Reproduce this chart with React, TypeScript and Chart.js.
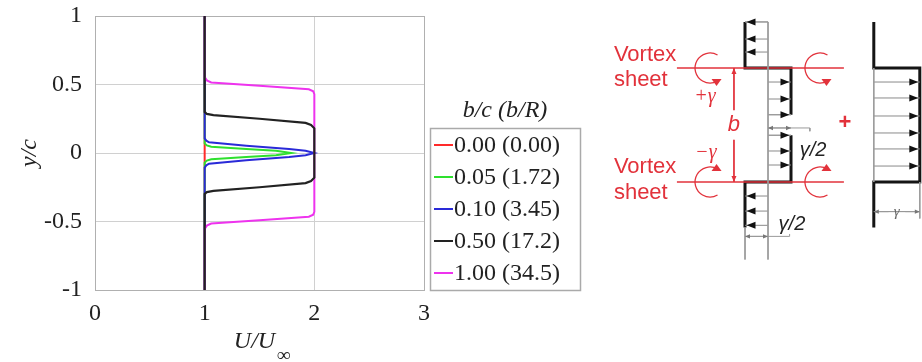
import React, { useEffect, useRef } from "react";
import { Chart, registerables } from "chart.js";
Chart.register(...registerables);

// ---------------- main chart data ----------------
const xTickValues = [0, 1, 2, 3];
const yTickValues = [-1, -0.5, 0, 0.5, 1];
const xTitle = "U/U";
const xTitleSub = "\u221E";
const yTitle = "y/c";
const legendTitle = "b/c (b/R)";
const seriesLabels = ["0.00 (0.00)", "0.05 (1.72)", "0.10 (3.45)", "0.50 (17.2)", "1.00 (34.5)"];
const seriesColors = ["#ff2a2a", "#2ee02e", "#2a2ad8", "#222222", "#ee33ee"];
const drawOrder = [4, 3, 2, 0, 1];

const redU = [1, 1];
const redY = [1, -1];
const greenU = [1, 1, 1.02, 1.06, 1.38, 1.65, 1.79, 1.65, 1.38, 1.06, 1.02, 1, 1];
const greenY = [1, 0.07, 0.055, 0.046, 0.03, 0.017, 0, -0.017, -0.03, -0.046, -0.055, -0.07, -1];
const blueU = [1, 1, 1.015, 1.04, 1.38, 1.77, 1.92, 2.0, 1.92, 1.77, 1.38, 1.04, 1.015, 1, 1];
const blueY = [1, 0.107, 0.09, 0.078, 0.053, 0.03, 0.017, 0, -0.017, -0.03, -0.053, -0.078, -0.09, -0.107, -1];
const blackU = [1, 1, 1.02, 1.08, 1.5, 1.92, 1.97, 2, 2, 1.97, 1.92, 1.5, 1.08, 1.02, 1, 1];
const blackY = [1, 0.3, 0.285, 0.277, 0.25, 0.22, 0.205, 0.18, -0.18, -0.205, -0.22, -0.25, -0.277, -0.285, -0.3, -1];
const magentaU = [1, 1, 1.02, 1.06, 1.5, 1.95, 1.99, 2, 2, 1.99, 1.95, 1.5, 1.06, 1.02, 1, 1];
const magentaY = [1, 0.555, 0.53, 0.515, 0.49, 0.465, 0.45, 0.43, -0.43, -0.45, -0.465, -0.49, -0.515, -0.53, -0.555, -1];

const seriesU = [redU, greenU, blueU, blackU, magentaU];
const seriesY = [redY, greenY, blueY, blackY, magentaY];

// ---------------- diagram data (x in units of gamma, y in units of b) ----------------
const sheetLevels = [0.5, -0.5];
const sheetSpan = [-1.98, 1.65];
const leftUpperX = [-0.5, -0.5, 0.5, 0.5];
const leftUpperY = [0.904, 0.5, 0.5, 0.09];
const leftLowerX = [0.5, 0.5, -0.5, -0.5];
const leftLowerY = [-0.09, -0.5, -0.5, -0.9];
const rightProfX = [2.3, 2.3, 3.3, 3.3, 2.3, 2.3];
const rightProfY = [0.904, 0.5, 0.5, -0.5, -0.5, -0.9];
const guideSegments = [
  [0, 0.904, 0, -1.18],
  [-0.5, 0.904, 0, 0.904],
  [0, 0.09, 0.5, 0.09],
  [0, -0.09, 0.5, -0.09],
  [-0.5, -0.9, -0.5, -1.18],
  [2.3, 0.5, 2.3, -0.5],
  [3.3, -0.5, 3.3, -0.82],
  [0, -0.026, 0.91, -0.026],
  [0.91, -0.026, 0.91, -0.055],
  [-0.5, -0.977, 0.47, -0.977],
  [0.47, -0.977, 0.47, -0.956],
  [2.3, -0.76, 2.62, -0.76],
  [2.98, -0.76, 3.3, -0.76],
];
const arrowsTopLeftY = [0.904, 0.754, 0.64];
const arrowsUpperY = [0.377, 0.228, 0.09];
const arrowsLowerY = [-0.09, -0.228, -0.351];
const arrowsBottomLeftY = [-0.623, -0.755, -0.88];
const arrowsRightY = [0.377, 0.237, 0.079, -0.07, -0.21, -0.36];
const arrowGroups = [
  { from: 0, to: -0.5, ys: arrowsTopLeftY },
  { from: 0, to: 0.5, ys: arrowsUpperY },
  { from: 0, to: 0.5, ys: arrowsLowerY },
  { from: 0, to: -0.5, ys: arrowsBottomLeftY },
  { from: 2.3, to: 3.3, ys: arrowsRightY },
];
const dimensions = [
  { x0: 0, x1: 0.5, y: -0.026 },
  { x0: -0.5, x1: 0, y: -0.977 },
  { x0: 2.3, x1: 3.3, y: -0.76 },
];
const bLineX = -0.74;
const bLineY = [0.5, 0.13, -0.13, -0.5];
const curlX = [-1.26, 1.13, -1.26, 1.13];
const curlY = [0.5, 0.5, -0.5, -0.5];
const curlUp = [false, false, true, true];
const diagramTexts = [
  { t: "Vortex", x: -3.35, y: 0.614, f: '22px "Liberation Sans"', c: "red", a: "left" },
  { t: "sheet", x: -3.35, y: 0.395, f: '22px "Liberation Sans"', c: "red", a: "left" },
  { t: "Vortex", x: -3.35, y: -0.366, f: '22px "Liberation Sans"', c: "red", a: "left" },
  { t: "sheet", x: -3.35, y: -0.6, f: '22px "Liberation Sans"', c: "red", a: "left" },
  { t: "+\u03B3", x: -1.37, y: 0.246, f: 'italic 20px "Liberation Serif"', c: "red", a: "center" },
  { t: "\u2212\u03B3", x: -1.35, y: -0.246, f: 'italic 20px "Liberation Serif"', c: "red", a: "center" },
  { t: "b", x: -0.74, y: 0, f: 'italic 22px "Liberation Sans"', c: "red", a: "center" },
  { t: "+", x: 1.67, y: 0.018, f: 'bold 22px "Liberation Sans"', c: "red", a: "center" },
  { t: "\u03B3/2", x: 0.98, y: -0.22, f: 'italic 20px "Liberation Sans"', c: "#222", a: "center" },
  { t: "\u03B3/2", x: 0.52, y: -0.87, f: 'italic 20px "Liberation Sans"', c: "#222", a: "center" },
  { t: "\u03B3", x: 2.8, y: -0.76, f: 'italic 15px "Liberation Serif"', c: "#666", a: "center" },
];

const RED = "#e2323b";
const SERIF = '"Liberation Serif", "Times New Roman", serif';

const mainPlugin = {
  id: "mainDecor",
  beforeDatasetsDraw(chart: any) {
    const { ctx, chartArea } = chart;
    ctx.save();
    ctx.strokeStyle = "#b0b0b0";
    ctx.lineWidth = 1;
    ctx.strokeRect(chartArea.left + 0.5, chartArea.top + 0.5, chartArea.right - chartArea.left, chartArea.bottom - chartArea.top);
    ctx.restore();
  },
  afterDraw(chart: any) {
    const { ctx, chartArea } = chart;
    ctx.save();
    ctx.fillStyle = "#222";
    ctx.font = "italic 24px " + SERIF;
    ctx.textAlign = "center";
    ctx.textBaseline = "middle";
    ctx.translate(30, (chartArea.top + chartArea.bottom) / 2);
    ctx.rotate(-Math.PI / 2);
    ctx.fillText(yTitle, 0, 0);
    ctx.setTransform(1, 0, 0, 1, 0, 0);
    ctx.textAlign = "left";
    ctx.textBaseline = "alphabetic";
    ctx.font = "italic 24px " + SERIF;
    const w = ctx.measureText(xTitle).width;
    const sw = 18;
    const cx = (chartArea.left + chartArea.right) / 2;
    const x0 = cx - (w + sw) / 2 + 4;
    ctx.fillText(xTitle, x0, 348);
    ctx.font = "italic 19px " + SERIF;
    ctx.fillText(xTitleSub, x0 + w + 2, 361);
    const lx = chartArea.right + 6;
    const ly = 128;
    ctx.font = "italic 24px " + SERIF;
    ctx.textAlign = "center";
    ctx.textBaseline = "middle";
    ctx.fillText(legendTitle, lx + 75, 111);
    ctx.strokeStyle = "#aaaaaa";
    ctx.lineWidth = 1.5;
    ctx.strokeRect(lx + 0.5, ly + 0.5, 150, 162);
    ctx.font = "24px " + SERIF;
    ctx.textAlign = "left";
    seriesLabels.forEach((lab, i) => {
      const y = ly + 17 + i * 32;
      ctx.strokeStyle = seriesColors[i];
      ctx.lineWidth = 2;
      ctx.beginPath();
      ctx.moveTo(lx + 4, y);
      ctx.lineTo(lx + 23, y);
      ctx.stroke();
      ctx.fillStyle = "#222";
      ctx.fillText(lab, lx + 24, y + 1);
    });
    ctx.restore();
  },
};

function head(ctx: any, tx: number, ty: number, dx: number, dy: number, len: number, half: number, color: string) {
  const nx = -dy, ny = dx;
  ctx.fillStyle = color;
  ctx.beginPath();
  ctx.moveTo(tx, ty);
  ctx.lineTo(tx - dx * len + nx * half, ty - dy * len + ny * half);
  ctx.lineTo(tx - dx * len - nx * half, ty - dy * len - ny * half);
  ctx.closePath();
  ctx.fill();
}

const diagramPlugin = {
  id: "diagramDecor",
  afterDatasetsDraw(chart: any) {
    const { ctx } = chart;
    const sx = chart.scales.x, sy = chart.scales.y;
    const px = (v: number) => sx.getPixelForValue(v);
    const py = (v: number) => sy.getPixelForValue(v);
    ctx.save();
    arrowGroups.forEach((g) => {
      const dir = g.to > g.from ? 1 : -1;
      g.ys.forEach((y) => head(ctx, px(g.to) - dir * 1.5, py(y), dir, 0, 9, 3.5, "#111"));
    });
    dimensions.forEach((d) => {
      head(ctx, px(d.x0), py(d.y), -1, 0, 5, 2.2, "#777");
      head(ctx, px(d.x1), py(d.y), 1, 0, 5, 2.2, "#777");
    });
    head(ctx, px(bLineX), py(bLineY[0]), 0, -1, 6, 2.5, RED);
    head(ctx, px(bLineX), py(bLineY[3]), 0, 1, 6, 2.5, RED);
    ctx.strokeStyle = RED;
    ctx.lineWidth = 1.3;
    curlX.forEach((cx, i) => {
      const x = px(cx), y = py(curlY[i]);
      const r = 15;
      const a = (60 * Math.PI) / 180;
      ctx.beginPath();
      ctx.arc(x, y, r, -a, a, true);
      ctx.stroke();
      if (curlUp[i]) {
        head(ctx, x + r * Math.cos(a) - 1, y - r * Math.sin(a) - 5, 0, -1, 7, 5, RED);
      } else {
        head(ctx, x + r * Math.cos(a) - 1, y + r * Math.sin(a) + 5, 0, 1, 7, 5, RED);
      }
    });
    ctx.textBaseline = "middle";
    diagramTexts.forEach((t) => {
      ctx.font = t.f;
      ctx.fillStyle = t.c === "red" ? RED : t.c;
      ctx.textAlign = t.a;
      ctx.fillText(t.t, px(t.x), py(t.y));
    });
    ctx.restore();
  },
};

function lineDs(xs: number[], ys: number[], color: string, width: number) {
  return {
    data: xs.map((x, i) => ({ x, y: ys[i] })),
    borderColor: color,
    borderWidth: width,
    pointRadius: 0,
    showLine: true,
    fill: false,
    tension: 0,
    borderJoinStyle: "miter",
    clip: false,
  };
}

export default function App() {
  const mainRef = useRef<HTMLCanvasElement>(null);
  const diagRef = useRef<HTMLCanvasElement>(null);

  useEffect(() => {
    document.body.style.margin = "0";
    const mainChart = new Chart(mainRef.current as HTMLCanvasElement, {
      type: "scatter",
      data: {
        datasets: seriesLabels.map((lab, i) => ({
          label: lab,
          data: seriesU[i].map((u, j) => ({ x: u, y: seriesY[i][j] })),
          borderColor: seriesColors[i],
          backgroundColor: seriesColors[i],
          borderWidth: i === 3 ? 2.2 : 2,
          pointRadius: 0,
          showLine: true,
          fill: false,
          tension: 0,
          order: drawOrder[i],
        })),
      } as any,
      options: {
        responsive: false,
        animation: false,
        events: [],
        layout: { padding: { left: 0, top: 16, right: 166, bottom: 0 } },
        plugins: { legend: { display: false }, tooltip: { enabled: false }, title: { display: false } },
        scales: {
          x: {
            type: "linear",
            min: 0,
            max: 3,
            afterBuildTicks: (s: any) => { s.ticks = xTickValues.map((v) => ({ value: v })); },
            afterFit: (s: any) => { s.height = 72; s.paddingLeft = 0; s.paddingRight = 0; },
            ticks: { autoSkip: false, maxRotation: 0, padding: 9, color: "#222", font: { family: SERIF, size: 24 }, callback: (v: any) => String(v) },
            grid: { color: "#d0d0d0", drawTicks: false, lineWidth: 1 },
            border: { display: false },
          },
          y: {
            type: "linear",
            min: -1,
            max: 1,
            afterBuildTicks: (s: any) => { s.ticks = yTickValues.map((v) => ({ value: v })); },
            afterFit: (s: any) => { s.width = 95; s.paddingTop = 0; s.paddingBottom = 0; },
            ticks: { autoSkip: false, padding: 13, color: "#222", font: { family: SERIF, size: 24 }, callback: (v: any) => String(v) },
            grid: { color: "#d0d0d0", drawTicks: false, lineWidth: 1 },
            border: { display: false },
          },
        },
      } as any,
      plugins: [mainPlugin],
    });

    const datasets: any[] = [];
    guideSegments.forEach((s) => datasets.push(lineDs([s[0], s[2]], [s[1], s[3]], "#9a9a9a", 1)));
    arrowGroups.forEach((g) => g.ys.forEach((y) => datasets.push(lineDs([g.from, g.to], [y, y], "#8a8a8a", 1))));
    dimensions.forEach((d) => datasets.push(lineDs([d.x0, d.x1], [d.y, d.y], "#8a8a8a", 1)));
    sheetLevels.forEach((y) => datasets.push(lineDs(sheetSpan, [y, y], RED, 1.5)));
    datasets.push(lineDs([bLineX, bLineX], [bLineY[0], bLineY[1]], RED, 1));
    datasets.push(lineDs([bLineX, bLineX], [bLineY[2], bLineY[3]], RED, 1));
    datasets.push(lineDs(leftUpperX, leftUpperY, "#151515", 3));
    datasets.push(lineDs(leftLowerX, leftLowerY, "#151515", 3));
    datasets.push(lineDs(rightProfX, rightProfY, "#151515", 3));

    const diagChart = new Chart(diagRef.current as HTMLCanvasElement, {
      type: "scatter",
      data: { datasets },
      options: {
        responsive: false,
        animation: false,
        events: [],
        layout: { padding: 0 },
        plugins: { legend: { display: false }, tooltip: { enabled: false } },
        scales: {
          x: { type: "linear", display: false, min: (590 - 768) / 46, max: (922 - 768) / 46 },
          y: { type: "linear", display: false, min: (125 - 362) / 114, max: 125 / 114 },
        },
      } as any,
      plugins: [diagramPlugin],
    });

    return () => {
      mainChart.destroy();
      diagChart.destroy();
    };
  }, []);

  return (
    <div style={{ position: "fixed", left: 0, top: 0, width: 922, height: 362, background: "#fff", overflow: "hidden" }}>
      <canvas ref={mainRef} width={590} height={362} style={{ position: "absolute", left: 0, top: 0, width: 590, height: 362 }} />
      <canvas ref={diagRef} width={332} height={362} style={{ position: "absolute", left: 590, top: 0, width: 332, height: 362 }} />
    </div>
  );
}
